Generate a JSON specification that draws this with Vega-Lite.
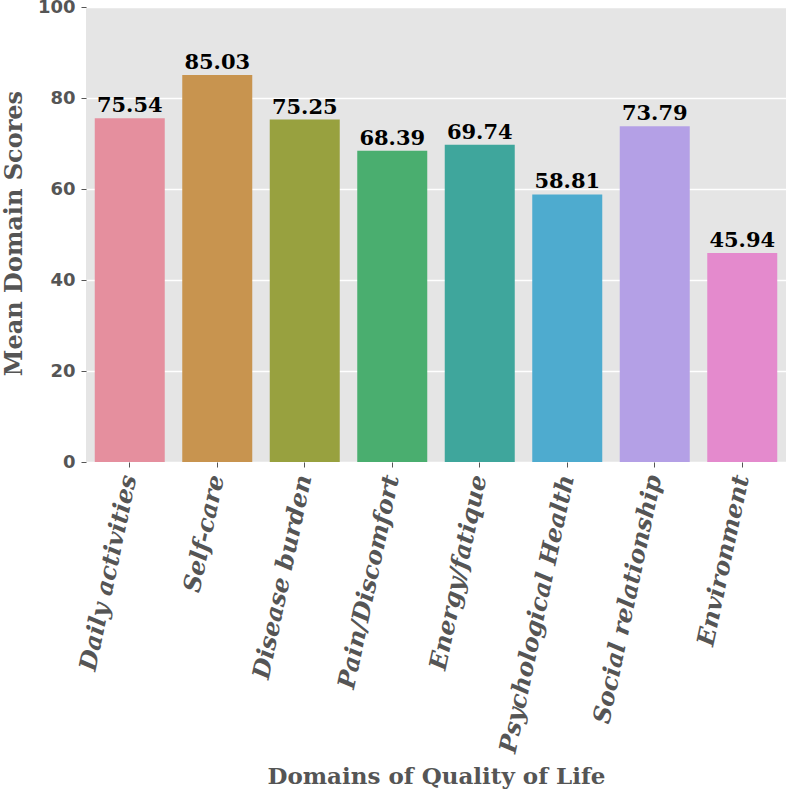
{
  "$schema": "https://vega.github.io/schema/vega-lite/v6.json",
  "autosize": {"type": "none"},
  "padding": {"left": 86, "top": 7, "right": 0, "bottom": 330},
  "width": 700,
  "height": 455,
  "background": "white",
  "view": {"fill": "#e5e5e5", "stroke": null},
  "data": {
    "values": [
      {"domain": "Daily activities", "score": 75.54, "label": "75.54"},
      {"domain": "Self-care", "score": 85.03, "label": "85.03"},
      {"domain": "Disease burden", "score": 75.25, "label": "75.25"},
      {"domain": "Pain/Discomfort", "score": 68.39, "label": "68.39"},
      {"domain": "Energy/fatique", "score": 69.74, "label": "69.74"},
      {"domain": "Psychological Health", "score": 58.81, "label": "58.81"},
      {"domain": "Social relationship", "score": 73.79, "label": "73.79"},
      {"domain": "Environment", "score": 45.94, "label": "45.94"}
    ]
  },
  "encoding": {
    "x": {
      "field": "domain",
      "type": "nominal",
      "sort": null,
      "scale": {"paddingInner": 0.2, "paddingOuter": 0.1},
      "title": "Domains of Quality of Life",
      "axis": {
        "domain": false,
        "grid": false,
        "tickSize": 5,
        "tickColor": "#555555",
        "labelAngle": -78,
        "labelAlign": "right",
        "labelBaseline": "middle",
        "labelPadding": 8,
        "labelFont": "DejaVu Serif",
        "labelFontStyle": "italic",
        "labelFontWeight": "bold",
        "labelFontSize": 24,
        "labelColor": "#555555",
        "labelLimit": 400,
        "titleFont": "DejaVu Serif",
        "titleFontWeight": "bold",
        "titleFontSize": 23,
        "titleColor": "#555555",
        "titleY": 321,
        "titleBaseline": "alphabetic"
      }
    },
    "y": {
      "field": "score",
      "type": "quantitative",
      "scale": {"domain": [0, 100], "nice": false},
      "title": "Mean Domain Scores",
      "axis": {
        "domain": false,
        "values": [0, 20, 40, 60, 80, 100],
        "tickSize": 5,
        "tickColor": "#555555",
        "labelPadding": 6,
        "labelFont": "DejaVu Sans",
        "labelFontWeight": "bold",
        "labelFontSize": 18,
        "labelColor": "#555555",
        "gridColor": "white",
        "gridWidth": 1.5,
        "titleFont": "DejaVu Serif",
        "titleFontWeight": "bold",
        "titleFontSize": 24,
        "titleColor": "#555555",
        "titleX": -72,
        "titleY": 226,
        "titleBaseline": "middle"
      }
    }
  },
  "layer": [
    {
      "mark": {"type": "bar"},
      "encoding": {
        "color": {
          "field": "domain",
          "type": "nominal",
          "sort": null,
          "legend": null,
          "scale": {
            "domain": ["Daily activities", "Self-care", "Disease burden", "Pain/Discomfort", "Energy/fatique", "Psychological Health", "Social relationship", "Environment"],
            "range": ["#e58f9e", "#c8944f", "#98a13f", "#4aae6f", "#3fa69c", "#4eabcf", "#b4a0e6", "#e48acd"]
          }
        }
      }
    },
    {
      "mark": {
        "type": "text",
        "baseline": "bottom",
        "dy": -2,
        "font": "DejaVu Serif",
        "fontWeight": "bold",
        "fontSize": 21,
        "color": "#000000"
      },
      "encoding": {
        "text": {"field": "label"}
      }
    }
  ]
}
